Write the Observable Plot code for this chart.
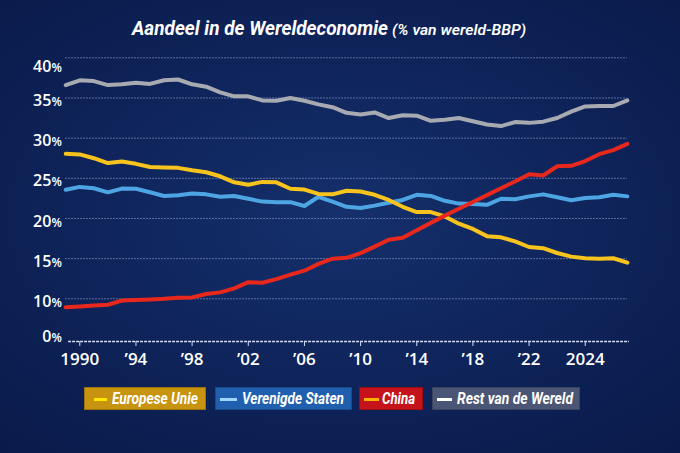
<!DOCTYPE html>
<html><head><meta charset="utf-8">
<script src="https://cdn.jsdelivr.net/npm/d3@7"></script>
<script src="https://cdn.jsdelivr.net/npm/@observablehq/plot@0.6"></script>
<style>
html,body{margin:0;padding:0;}
body{width:680px;height:453px;overflow:hidden;position:relative;
background: radial-gradient(ellipse 75% 70% at 50% 48%, #15306c 0%, #0f255c 45%, #0a1a4a 100%);
font-family:Roboto,"Noto Sans",sans-serif;}
.fit{position:absolute;white-space:nowrap;color:#fff;font-style:italic;font-weight:700;line-height:1;transform-origin:0 50%;}
#chart{position:absolute;top:44px;left:0;}
.box{position:absolute;top:387px;height:23px;box-sizing:border-box;border:1px solid rgba(0,0,0,0.22);}
.sw{position:absolute;top:10px;height:3px;}
.lt{position:absolute;top:3px;white-space:nowrap;color:#fff;font-style:italic;font-weight:700;font-size:16px;line-height:16px;transform-origin:0 50%;}
</style></head>
<body>
<div id="chart"></div>
<script>
const years = [1989,1990,1991,1992,1993,1994,1995,1996,1997,1998,1999,2000,2001,2002,2003,2004,2005,2006,2007,2008,2009,2010,2011,2012,2013,2014,2015,2016,2017,2018,2019,2020,2021,2022,2023,2024,2025,2026,2027,2028,2029];
const europeseUnie = [28.05,27.97,27.5,26.9,27.1,26.8,26.4,26.35,26.3,26.0,25.75,25.25,24.5,24.2,24.55,24.5,23.7,23.6,23.05,23.0,23.45,23.35,22.95,22.3,21.45,20.8,20.8,20.25,19.35,18.7,17.8,17.65,17.15,16.45,16.3,15.7,15.25,15.05,15.0,15.05,14.5];
const verenigdeStaten = [23.57,23.93,23.76,23.25,23.72,23.7,23.27,22.8,22.9,23.1,23.0,22.7,22.8,22.45,22.1,22.03,22.03,21.55,22.7,22.1,21.45,21.3,21.6,21.95,22.3,22.95,22.8,22.2,21.85,21.8,21.7,22.45,22.4,22.75,23.0,22.65,22.27,22.55,22.65,22.95,22.75];
const china = [8.0,8.2,8.43,8.6,9.58,9.72,9.86,10.0,10.12,10.17,10.6,10.8,11.3,12.07,12.0,12.45,13.0,13.5,14.35,15.0,15.1,15.68,16.5,17.35,17.6,18.53,19.45,20.35,21.2,22.05,22.9,23.77,24.6,25.5,25.35,26.5,26.55,27.15,28.0,28.5,29.28];
const restVanDeWereld = [36.6,37.2,37.1,36.6,36.7,36.9,36.75,37.2,37.3,36.7,36.4,35.7,35.2,35.2,34.7,34.65,35.0,34.65,34.2,33.85,33.15,32.95,33.2,32.5,32.85,32.8,32.15,32.3,32.5,32.1,31.7,31.5,32.0,31.9,32.05,32.5,33.3,33.95,34.0,34.0,34.7];

const seriesNames = ["Europese Unie","Verenigde Staten","China","Rest van de Wereld"];
const yTicks = [0,10,15,20,25,30,35,40];
const xTickPositions = [1990,1994,1998,2002,2006,2010,2014,2018,2022,2026];
const xTickLabels = ["1990","\u201994","\u201998","\u201902","\u201906","\u201910","\u201914","\u201918","\u201922","2024"];
const titleMain = "Aandeel in de Wereldeconomie";
const titleSub = "(% van wereld-BBP)";

// styles
const lineColors = ["#f7c31c","#4ea5e3","#e8281d","#a8aab2"];
const boxColors = ["#c8930f","#1f5fae","#c5121b","#4b5576"];
const swatchColors = ["#ffe800","#9fd6ff","#f7b400","#ffffff"];

// broken axis: the 0–10% band is drawn compressed (as in the original)
const BREAK = 10, SQUASH = 0.5316;
const squash = v => v >= BREAK ? v : BREAK - (BREAK - v) * SQUASH;
const unsquash = u => u >= BREAK ? u : BREAK - (BREAK - u) / SQUASH;

const seriesValues = [europeseUnie, verenigdeStaten, china, restVanDeWereld];
const drawOrder = [3,1,0,2];
const rows = [];
for (const s of drawOrder) years.forEach((yr,i)=>rows.push({year:yr, value:squash(seriesValues[s][i]), series:seriesNames[s]}));

const axisFont = {fontFamily:"'Open Sans', sans-serif", fontWeight:600, fill:"#ffffff", label:null};
const pctFmt = u => String(Math.round(unsquash(u)));
const labelOf = new Map(xTickPositions.map((p,i)=>[p, xTickLabels[i]]));

const chart = Plot.plot({
  width:680, height:330,
  marginLeft:65.26, marginRight:53.14, marginTop:13.3, marginBottom:33,
  style:{background:"transparent", color:"#ffffff", overflow:"visible"},
  x:{domain:[1989,2029]},
  y:{domain:[squash(0),40]},
  color:{domain:seriesNames, range:lineColors},
  marks:[
    Plot.ruleY(yTicks.filter(d=>d>0).map(squash), {stroke:"#9aa8d8", strokeOpacity:0.75, strokeWidth:1, strokeDasharray:"1.5,1.5"}),
    Plot.ruleY([squash(0)], {x1:1989.2, x2:2029.15, stroke:"#d4dbf2", strokeWidth:1.6, strokeDasharray:"3,1"}),
    Plot.lineY(rows, {x:"year", y:"value", z:"series", stroke:"series", strokeWidth:4, strokeLinejoin:"round", strokeLinecap:"round"}),
    Plot.axisX(xTickPositions, {...axisFont, fontSize:17, tickSize:5, tickPadding:6, stroke:"#d4dbf2", tickFormat: d => labelOf.get(d)}),
    Plot.axisY([10,15,20,25,30,35].map(squash), {...axisFont, fontSize:16, tickSize:0, tickPadding:4, dy:3, tickFormat:pctFmt}),
    Plot.axisY([squash(40)], {...axisFont, fontSize:16, tickSize:0, tickPadding:4, dy:9, tickFormat:pctFmt}),
    Plot.axisY([squash(0)], {...axisFont, fontSize:16, tickSize:0, tickPadding:4, dy:-5, tickFormat:pctFmt})
  ]
});
chart.querySelectorAll('g[aria-label="y-axis tick label"] text').forEach(t=>{
  const ts = document.createElementNS("http://www.w3.org/2000/svg","tspan");
  ts.setAttribute("font-size","12");
  ts.textContent = "%";
  t.appendChild(ts);
});
document.getElementById("chart").appendChild(chart);

// helper: place a text and squeeze it horizontally to the width it has in the original
function fitText(el, width){
  const w = el.getBoundingClientRect().width;
  if (w > 0) el.style.transform = `scaleX(${width / w})`;
}

// title (above the SVG)
const tMain = document.createElement("div");
tMain.className = "fit"; tMain.textContent = titleMain;
Object.assign(tMain.style, {left:"132px", top:"18px", fontSize:"20px"});
document.body.appendChild(tMain); fitText(tMain, 256);
const tSub = document.createElement("div");
tSub.className = "fit"; tSub.textContent = titleSub;
Object.assign(tSub.style, {left:"392px", top:"23px", fontSize:"14px", fontWeight:"600"});
document.body.appendChild(tSub); fitText(tSub, 134);

// legend (below the SVG)
const legendLayout = [
  {left:84, width:122, swL:9, swW:13, txL:27, txW:86},
  {left:215, width:137, swL:4, swW:17, txL:26, txW:102},
  {left:359, width:64, swL:4, swW:15, txL:22, txW:33},
  {left:432, width:148, swL:4, swW:15, txL:24, txW:116}
];
seriesNames.forEach((name,i)=>{
  const L = legendLayout[i];
  const box = document.createElement("div");
  box.className = "box";
  Object.assign(box.style, {left:L.left+"px", width:L.width+"px", background:boxColors[i]});
  const sw = document.createElement("div");
  sw.className = "sw";
  Object.assign(sw.style, {left:L.swL+"px", width:L.swW+"px", background:swatchColors[i]});
  const tx = document.createElement("div");
  tx.className = "lt"; tx.textContent = name;
  tx.style.left = L.txL + "px";
  box.appendChild(sw); box.appendChild(tx);
  document.body.appendChild(box);
  fitText(tx, L.txW);
});
</script>
</body></html>
